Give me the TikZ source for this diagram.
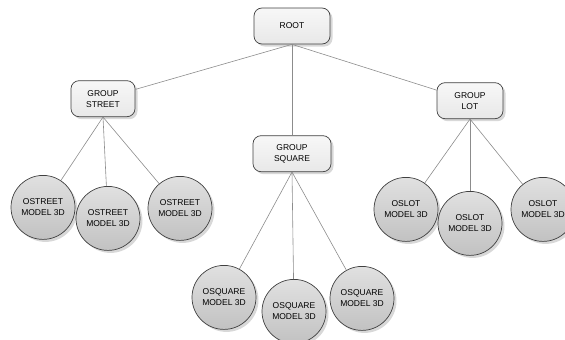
\documentclass[tikz,border=0pt]{standalone}
\usepackage{fontspec}
\setmainfont{Liberation Sans}
\usepackage{tikz}
\usetikzlibrary{shapes.geometric, positioning, shadows}
\tikzstyle{group} = [rectangle, rounded corners=8pt, minimum width=64pt, minimum height=36pt, text centered, align=center, draw=black!75, line width=0.7pt, top color=black!3, bottom color=black!9, drop shadow={shadow xshift=2.5pt, shadow yshift=-2.5pt, fill=black!30, opacity=.5}]
\tikzstyle{model} = [circle, minimum size=64pt, inner sep=0pt, text centered, align=center, draw=black!75, line width=0.7pt, top color=black!12, bottom color=black!24, drop shadow={shadow xshift=2.5pt, shadow yshift=-2.5pt, fill=black!30, opacity=.5}]
\tikzstyle{link} = [draw=black!45, line width=0.6pt]

\begin{document}
\begin{tikzpicture}[font=\fontsize{8.5}{11}\selectfont]
\useasboundingbox (0,0) rectangle (565pt,-340pt);

% --- Top level ---
\node (Root) [group, minimum width=76pt] at (292pt,-26pt) {ROOT};

% --- Groups ---
\node (GStreet) [group, below=36pt of Root, xshift=-189pt] {GROUP\\STREET};
\node (GSquare) [group, below=91pt of Root, minimum width=78pt] {GROUP\\SQUARE};
\node (GLot) [group, below=38pt of Root, xshift=178pt, minimum width=66pt] {GROUP\\LOT};

% --- Street models ---
\node (Street1) [model, below=58pt of GStreet, xshift=-60pt] {OSTREET\\MODEL 3D};
\node (Street2) [model, below=69pt of GStreet, xshift=5pt] {OSTREET\\MODEL 3D};
\node (Street3) [model, below=59pt of GStreet, xshift=77pt] {OSTREET\\MODEL 3D};

% --- Square models ---
\node (Square1) [model, below=93pt of GSquare, xshift=-68pt] {OSQUARE\\MODEL 3D};
\node (Square2) [model, below=107pt of GSquare, xshift=2pt] {OSQUARE\\MODEL 3D};
\node (Square3) [model, below=94pt of GSquare, xshift=70pt] {OSQUARE\\MODEL 3D};

% --- Lot models ---
\node (Lot1) [model, below=58pt of GLot, xshift=-64pt] {OSLOT\\MODEL 3D};
\node (Lot2) [model, below=72pt of GLot] {OSLOT\\MODEL 3D};
\node (Lot3) [model, below=58pt of GLot, xshift=73pt] {OSLOT\\MODEL 3D};

% --- Links ---
\draw [link] (Root.south) -- (GStreet);
\draw [link] (Root.south) -- (GSquare);
\draw [link] (Root.south) -- (GLot);
\foreach \n in {Street1, Street2, Street3}
  \draw [link] (GStreet.south) -- (\n);
\foreach \n in {Square1, Square2, Square3}
  \draw [link] (GSquare.south) -- (\n);
\foreach \n in {Lot1, Lot2, Lot3}
  \draw [link] (GLot.south) -- (\n);

\end{tikzpicture}
\end{document}
